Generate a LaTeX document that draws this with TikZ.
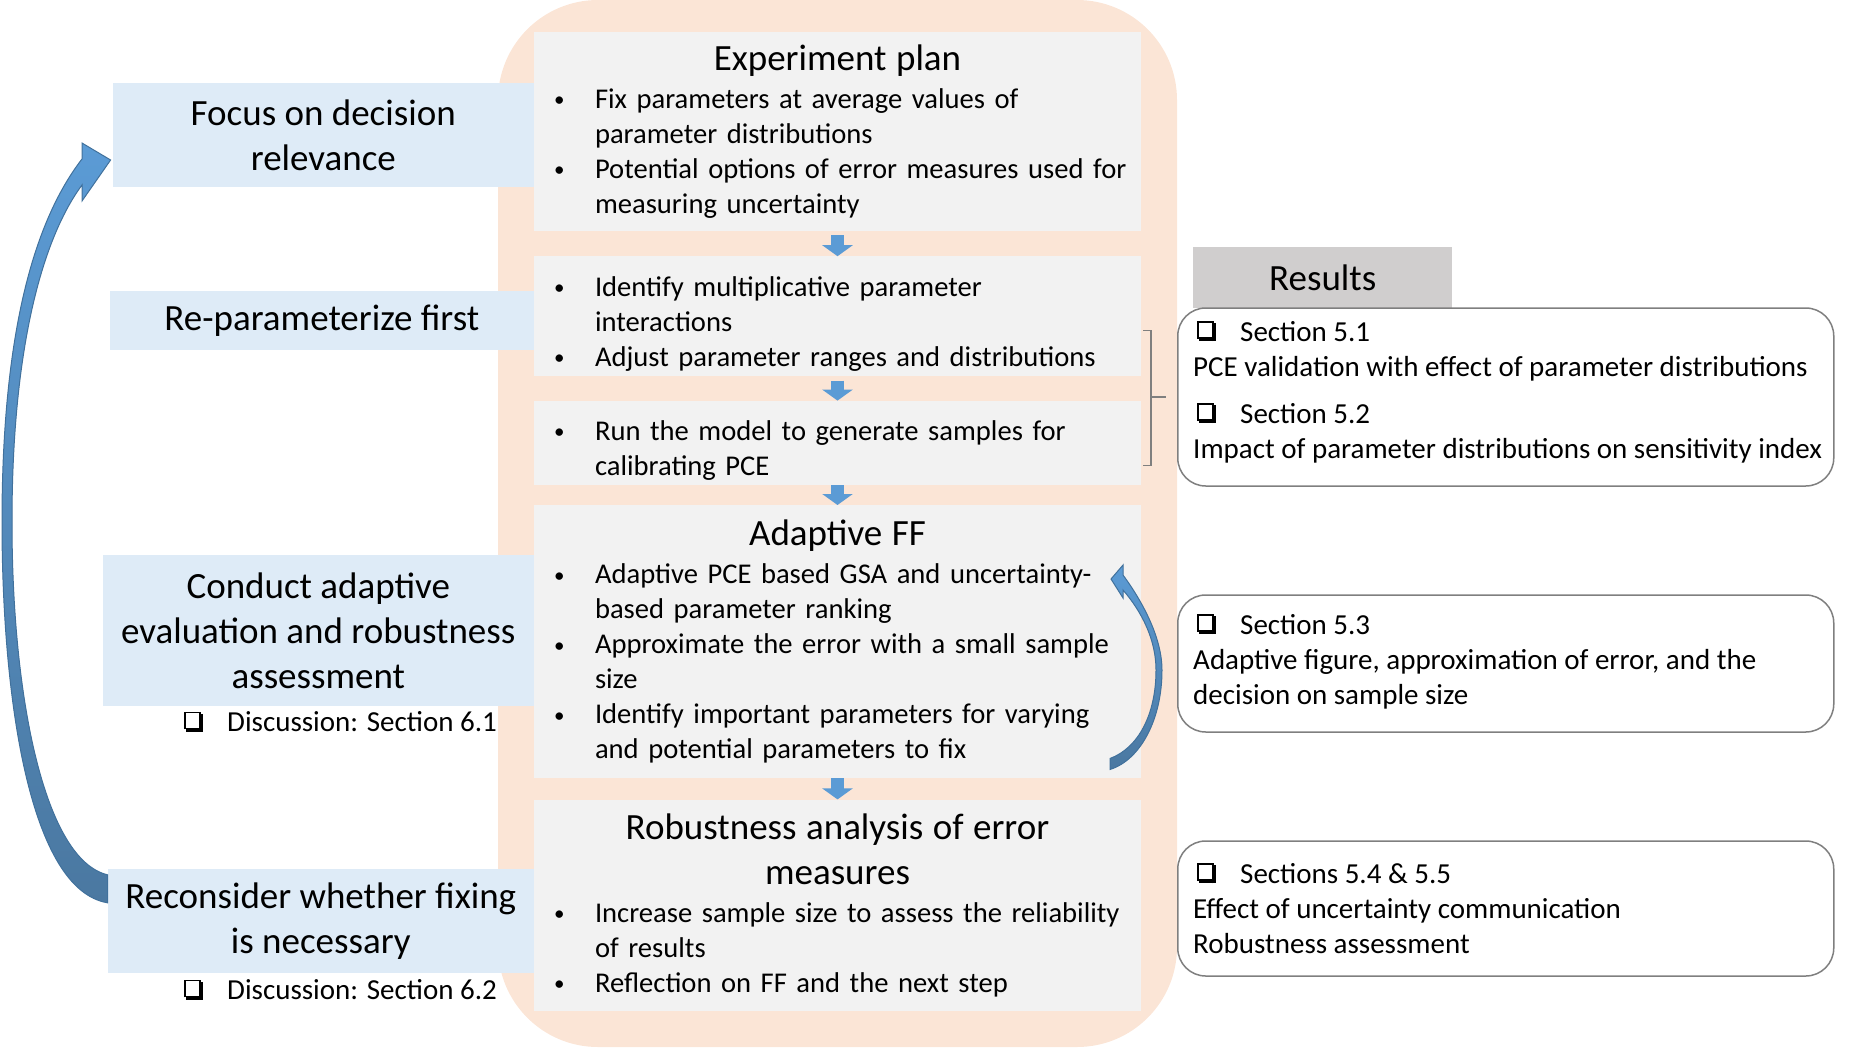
\documentclass[tikz,border=0pt]{standalone}
\usepackage{fontspec}
\setmainfont{Carlito}
\usetikzlibrary{arrows.meta, positioning, calc}
\definecolor{lanepeach}{RGB}{251, 229, 214}
\definecolor{stepgray}{RGB}{242, 242, 242}
\definecolor{focusblue}{RGB}{222, 235, 247}
\definecolor{headgray}{RGB}{208, 206, 206}
\definecolor{arrowblue}{RGB}{91, 155, 213}
\definecolor{arrowdeep}{RGB}{65, 113, 156}
\definecolor{framegray}{RGB}{127, 127, 127}

\setlength{\unitlength}{1pt}
\newcommand{\chk}{\begin{picture}(19,20)
    \put(0,2.5){\rule{1.5pt}{17.5pt}}\put(0,18.5){\rule{16.5pt}{1.5pt}}
    \put(15,2.5){\rule{1.5pt}{17.5pt}}\put(0,2.5){\rule{16.5pt}{1.5pt}}
    \put(15,0){\rule{4pt}{18pt}}\put(2,0){\rule{17pt}{4pt}}
\end{picture}}
\newcommand{\chkline}[1]{\hspace*{4pt}\makebox[43pt][l]{\chk}#1}
\newcommand{\steptitle}[1]{{\centering\fontsize{37}{45}\selectfont #1\par}\vspace{3pt}}
\newcommand{\stepitem}[1]{\par\noindent\hangindent=53pt\hangafter=1\hspace*{12pt}\makebox[41pt][l]{\raisebox{1.5pt}{\fontsize{21}{21}\selectfont\textbullet}}#1\par}

\tikzset{
    lane/.style={fill=lanepeach, rounded corners=100pt, minimum width=679pt, minimum height=1047pt, inner sep=0pt},
    stepbox/.style={fill=stepgray, minimum width=607pt, text width=591pt, inner xsep=8pt, inner ysep=0pt, align=left, font=\fontsize{28.6}{35}\selectfont},
    focusbox/.style={fill=focusblue, inner sep=0pt, align=center, anchor=east, font=\fontsize{37}{45}\selectfont},
    resultbox/.style={draw=framegray, line width=1.5pt, rounded corners=28pt, minimum width=656pt, inner sep=0pt, anchor=west},
    resulttext/.style={inner sep=0pt, align=left, anchor=west, font=\fontsize{29}{35}\selectfont},
    flowarrow/.style={arrowblue, line width=13pt, -{Triangle[width=30pt, length=11pt]}},
    bendarrow/.style={draw=arrowdeep, line width=1pt, top color=arrowblue, bottom color=arrowdeep!95},
    bracket/.style={framegray, line width=1.5pt}
}

\begin{document}
\begin{tikzpicture}[x=1pt, y=-1pt]
    \useasboundingbox (0,0) rectangle (1860,1047);
    \node[lane] (lane) at (837.5,523.5) {};

    \node[focusbox, minimum width=421pt, minimum height=104pt] (focus) at (534,135) {Focus on decision\\relevance};
    \node[focusbox, minimum width=424pt, minimum height=59pt] (reparamfirst) at (534,320.5) {Re-parameterize first};
    \node[focusbox, minimum width=431pt, minimum height=151pt] (conduct) at (534,630.5) {Conduct adaptive\\evaluation and robustness\\assessment};
    \node[focusbox, minimum width=426pt, minimum height=104pt] (reconsider) at (534,921) {Reconsider whether fixing\\is necessary};
    \node[resulttext] (disc61) at (180,722) {\chkline{Discussion: Section 6.1}};
    \node[resulttext] (disc62) at (180,990) {\chkline{Discussion: Section 6.2}};

    \node[stepbox, minimum height=199pt] (plan) at (837.5,131.5) {\steptitle{Experiment plan}\stepitem{Fix parameters at average values of\newline parameter distributions}\stepitem{Potential options of error measures used for\newline measuring uncertainty}};
    \node[stepbox, minimum height=120pt, below=25pt of plan] (reparam) {\stepitem{Identify multiplicative parameter\newline interactions}\stepitem{Adjust parameter ranges and distributions}};
    \node[stepbox, minimum height=84pt, below=24pt of reparam] (run) {\stepitem{Run the model to generate samples for\newline calibrating PCE}};
    \node[stepbox, minimum height=273pt, below=20pt of run] (adaptive) {\steptitle{Adaptive FF}\stepitem{Adaptive PCE based GSA and uncertainty-\newline based parameter ranking}\stepitem{Approximate the error with a small sample\newline size}\stepitem{Identify important parameters for varying\newline and potential parameters to fix}};
    \node[stepbox, minimum height=211pt, below=21pt of adaptive] (robust) {\steptitle{Robustness analysis of error\\measures}\stepitem{Increase sample size to assess the reliability\newline of results}\stepitem{Reflection on FF and the next step}};

    \draw[flowarrow] ([yshift=-4pt]plan.south) -- (reparam.north);
    \draw[flowarrow] ([yshift=-4pt]reparam.south) -- (run.north);
    \draw[flowarrow] (run.south) -- (adaptive.north);
    \draw[flowarrow] (adaptive.south) -- (robust.north);

    \node[fill=headgray, minimum width=259pt, minimum height=61pt, inner sep=0pt, anchor=south west, font=\fontsize{37}{45}\selectfont] (resultshead) at (1193,308) {Results};
    \node[resultbox, minimum height=178pt] (sec51) at (1177,397) {};
    \node[resulttext] (sec51text) at ([xshift=16pt, yshift=5pt]sec51.west) {\chkline{Section 5.1}\\PCE validation with effect of parameter distributions\\[12pt]\chkline{Section 5.2}\\Impact of parameter distributions on sensitivity index};
    \node[resultbox, minimum height=137pt] (sec53) at (1177,663.5) {};
    \node[resulttext] (sec53text) at ([xshift=16pt, yshift=2pt]sec53.west) {\chkline{Section 5.3}\\Adaptive figure, approximation of error, and the\\decision on sample size};
    \node[resultbox, minimum height=135pt] (sec545) at (1177,908.5) {};
    \node[resulttext] (sec545text) at ([xshift=16pt]sec545.west) {\chkline{Sections 5.4 \& 5.5}\\Effect of uncertainty communication\\Robustness assessment};

    \draw[bracket] ([xshift=2pt, yshift=-14pt]reparam.east) -- ++(8,0) -- ++(0,135) -- ++(-8,0);
    \draw[bracket] ([xshift=-26pt]sec51.west) -- ([xshift=-11pt]sec51.west);

    \path[bendarrow] ([yshift=-34pt]reconsider.north west) .. controls (30,890) and (2,700) .. (2,522)
        .. controls (2,330) and (35,220) .. (82,159) -- (82,143) -- ([xshift=-2pt, yshift=-25pt]focus.west)
        -- (82,201) -- (82,185) .. controls (45,235) and (12,340) .. (12,522)
        .. controls (12,700) and (45,860) .. ([yshift=-6pt]reconsider.north west) -- cycle;
    \path[bendarrow] ([xshift=-31pt, yshift=9pt]adaptive.south east) .. controls (1140,760) and (1162,720) .. (1162,670)
        .. controls (1162,640) and (1145,605) .. (1123,575) -- (1123,565) -- (1111,579) -- (1123,598) -- (1123,590)
        .. controls (1142,612) and (1156,640) .. (1156,670) .. controls (1156,715) and (1138,748) .. ([xshift=-31pt, yshift=20pt]adaptive.south east) -- cycle;
\end{tikzpicture}
\end{document}
